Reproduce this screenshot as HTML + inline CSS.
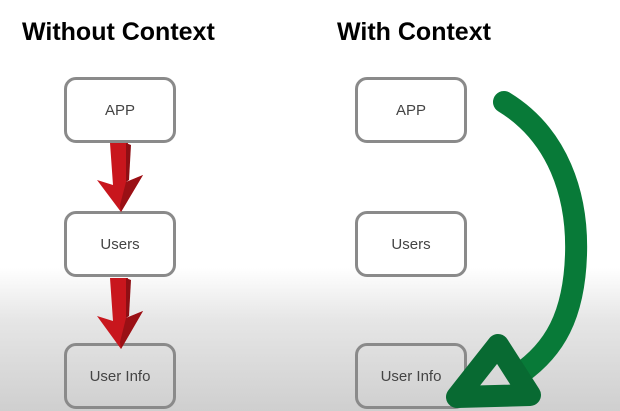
<!DOCTYPE html>
<html><head><meta charset="utf-8"><style>
html,body{margin:0;padding:0}
body{width:620px;height:411px;overflow:hidden;position:relative;font-family:"Liberation Sans",sans-serif;
background:linear-gradient(to bottom,#fff 0,#fff 268px,#e6e6e6 320px,#cfcfcf 411px);}
.t{position:absolute;top:18px;font-weight:bold;font-size:25px;color:#000;letter-spacing:0px}
.b{position:absolute;width:106px;height:60px;border:3px solid #8a8a8a;border-radius:12px;box-sizing:content-box;
display:flex;align-items:center;justify-content:center;font-size:15px;color:#444;background:#fff}
.g{background:transparent}
</style></head><body>
<div class="t" style="left:22px">Without Context</div>
<div class="t" style="left:337px">With Context</div>
<div class="b" style="left:64px;top:77px">APP</div>
<div class="b" style="left:64px;top:211px">Users</div>
<div class="b g" style="left:64px;top:343px">User Info</div>
<div class="b" style="left:355px;top:77px">APP</div>
<div class="b" style="left:355px;top:211px">Users</div>
<div class="b g" style="left:355px;top:343px">User Info</div>
<svg width="620" height="411" style="position:absolute;left:0;top:0">
<g>
<polygon points="110,143 128,143 126,182 143,175 121,212 97,180 113,185" fill="#c8161d"/>
<polygon points="126,143 131,145 129,180 126,182" fill="#8e0f14"/>
<polygon points="126,182 143,175 121,212 120,205" fill="#9a1015"/>
<polygon points="110,278 128,278 126,318 143,311 121,349 97,316 113,321" fill="#c8161d"/>
<polygon points="126,278 131,280 129,316 126,318" fill="#8e0f14"/>
<polygon points="126,318 143,311 121,349 120,342" fill="#9a1015"/>
</g>
<path d="M504,102 C558,135 578,195 576,255 C574,315 555,350 518,375" fill="none" stroke="#087a38" stroke-width="22" stroke-linecap="round"/>
<polygon points="498,345 457,397 530,395" fill="none" stroke="#086a32" stroke-width="22" stroke-linejoin="round"/>
</svg>
</body></html>
